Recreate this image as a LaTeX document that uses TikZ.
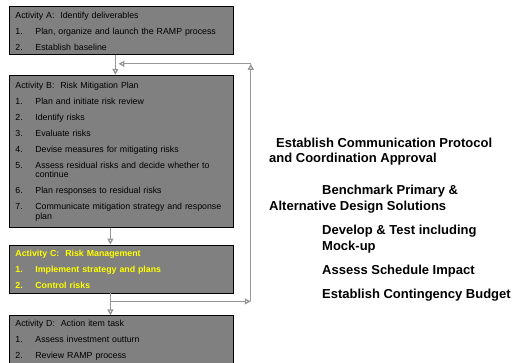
\documentclass[tikz,border=0pt]{standalone}
\usepackage{fontspec}
\setmainfont{Liberation Sans}
\usetikzlibrary{arrows.meta, positioning}

\definecolor{boxgray}{RGB}{128,128,128}
\definecolor{linegray}{RGB}{150,150,150}
\definecolor{actyellow}{RGB}{255,255,0}

% numbered line inside an activity box
\newcommand{\actitem}[2]{\par\vspace{6.5pt}\noindent\hangindent=20pt\hangafter=1\makebox[20pt][l]{#1}#2\par}
% struts for the space above the first and below the last line
\newcommand{\acttop}[1]{\rule{0pt}{#1pt}}
\newcommand{\actbot}[1]{\rule[-#1pt]{0pt}{#1pt}}

\begin{document}
\begin{tikzpicture}
  [x=1pt, y=-1pt,
  % activity box
  actbox/.style = {rectangle,
    draw, line width=0.8pt,
    fill=boxgray,
    text width=212pt,
    inner xsep=6pt, inner ysep=0pt,
    font=\fontsize{8.8}{9.5}\selectfont,
    execute at begin node=\raggedright},
  % text on the right
  note/.style = {anchor=base west, inner sep=0pt,
    font=\fontsize{13}{15}\selectfont\bfseries},
  % line
  line/.style = {draw=linegray, line width=1.3pt,
    -{Triangle[open, length=6pt, width=6pt]}},
  ]
  \useasboundingbox (0,0) rectangle (519,362);

  % nodes
  \node [actbox, anchor=north west] (actA) at (9,6)
    {\acttop{12}Activity A:~ Identify deliverables
     \actitem{1.}{Plan, organize and launch the RAMP process}
     \actitem{2.}{Establish baseline\actbot{4}}};
  \node [actbox, below=20pt of actA] (actB)
    {\acttop{13}Activity B:~ Risk Mitigation Plan
     \actitem{1.}{Plan and initiate risk review}
     \actitem{2.}{Identify risks}
     \actitem{3.}{Evaluate risks}
     \actitem{4.}{Devise measures for mitigating risks}
     \actitem{5.}{Assess residual risks and decide whether to\newline continue}
     \actitem{6.}{Plan responses to residual risks}
     \actitem{7.}{Communicate mitigation strategy and response\newline plan\actbot{8}}};
  \node [actbox, below=17pt of actB, text=actyellow,
    font=\fontsize{8.8}{9.5}\selectfont\bfseries] (actC)
    {\acttop{11}Activity C:~ Risk Management
     \actitem{1.}{Implement strategy and plans}
     \actitem{2.}{Control risks\actbot{5}}};
  \node [actbox, below=22pt of actC] (actD)
    {\acttop{11}Activity D:~ Action item task
     \actitem{1.}{Assess investment outturn}
     \actitem{2.}{Review RAMP process\actbot{5}}};

  \node [note] (proto1) at (276,147) {Establish Communication Protocol};
  \node [note] (proto2) at (269,162) {and Coordination Approval};
  \node [note] (bench1) at (322,194) {Benchmark Primary \&};
  \node [note] (bench2) at (269,210) {Alternative Design Solutions};
  \node [note] (devel1) at (322,234) {Develop \& Test including};
  \node [note] (devel2) at (322,250) {Mock-up};
  \node [note] (sched) at (322,274) {Assess Schedule Impact};
  \node [note] (budget) at (322,298) {Establish Contingency Budget};

  % loop corners
  \coordinate (loopR) at ([shift={(17pt,-8pt)}]actC.south east);
  \coordinate (loopT) at ([shift={(17pt,-9pt)}]actA.south east);
  \coordinate (loopL) at ([shift={(-3pt,-9pt)}]actA.south);

  % path
  \path [line] ([xshift=-6pt]actA.south) -- ([xshift=-6pt]actB.north);
  \path [line] ([xshift=-11pt]actB.south) -- ([xshift=-11pt]actC.north);
  \path [line] ([xshift=-11pt]actC.south) -- ([xshift=-11pt]actD.north);
  \path [line] ([xshift=-11pt]actC.south) |- (loopR);
  \path [line] (loopR) -- (loopT);
  \path [line] (loopT) -- (loopL);

\end{tikzpicture}
\end{document}
